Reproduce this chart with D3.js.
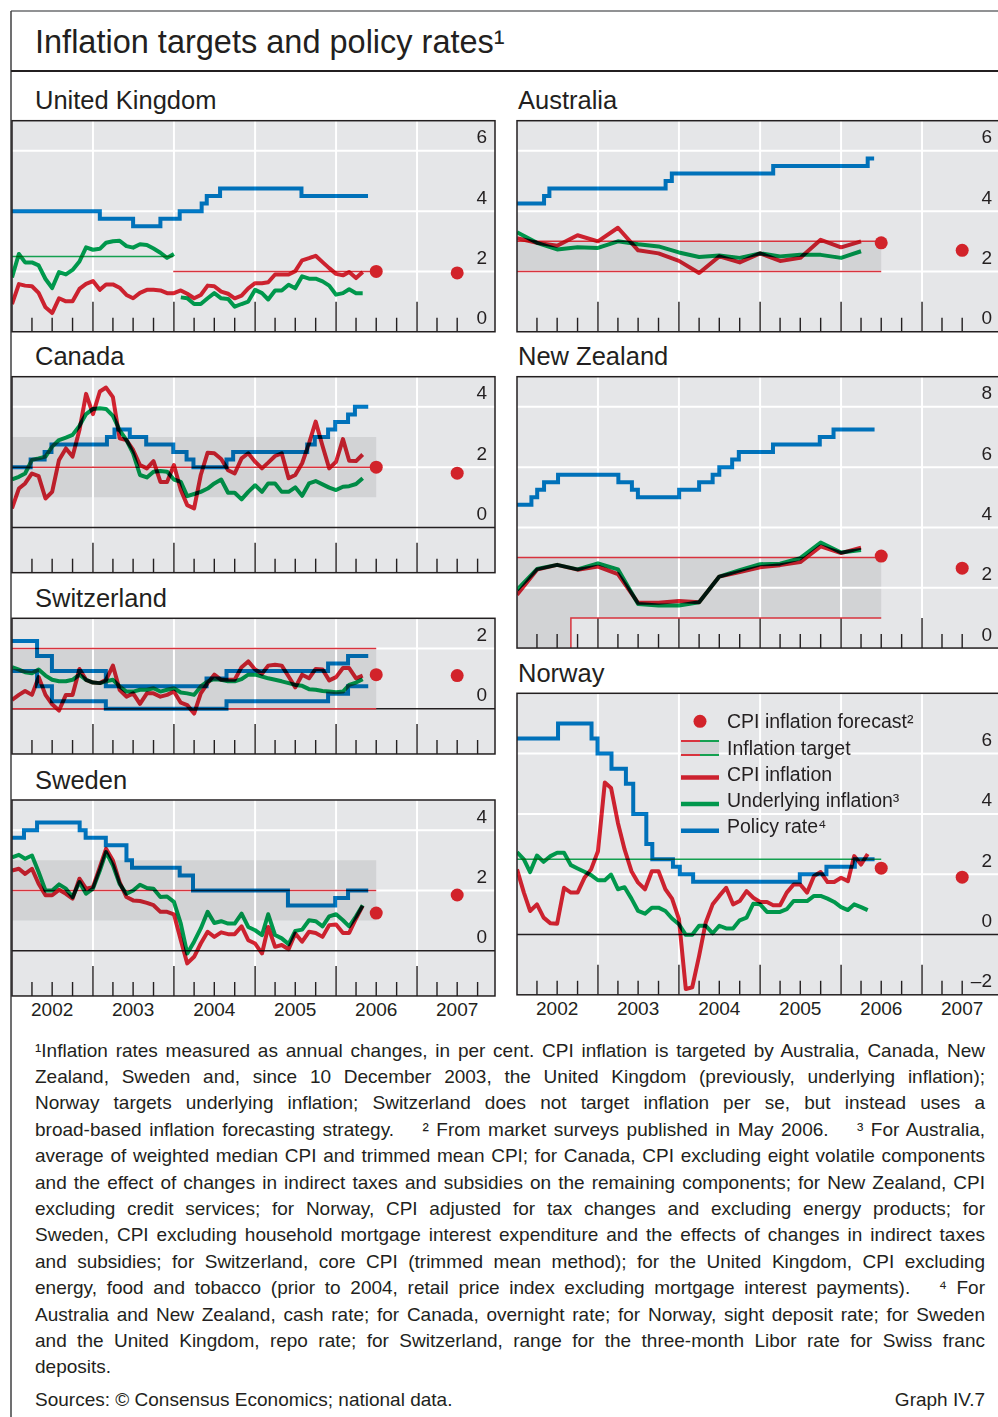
<!DOCTYPE html>
<html>
<head>
<meta charset="utf-8">
<script src="https://cdn.jsdelivr.net/npm/d3@7"></script>
<style>
  body { margin: 0; background: #fff; }
  svg text { font-family: "Liberation Sans", Arial, sans-serif; fill: #231f20; }
</style>
</head>
<body>
<svg id="chart" width="998" height="1417"></svg>
<script>
// ---- data ----
// monthly series: one value per month, first value plotted at Jan 2002
const ukCpi = [0.92, 1.58, 1.53, 1.51, 1.29, 0.81, 0.62, 1.11, 1.01, 1.01, 1.42, 1.59, 1.68, 1.39, 1.57, 1.57, 1.46, 1.22, 1.11, 1.29,
  1.39, 1.39, 1.37, 1.28, 1.28, 1.37, 1.26, 1.11, 1.22, 1.53, 1.51, 1.33, 1.26, 1.11, 1.2, 1.44, 1.61, 1.61, 1.64, 1.9,
  1.9, 1.9, 2.01, 2.37, 2.44, 2.52, 2.31, 2.11, 1.92, 1.87, 1.98, 1.78, 1.98];
const ukRpix = [1.8, 2.58, 2.3, 2.3, 2.2, 1.75, 1.45, 1.98, 1.9, 2.05, 2.33, 2.8, 2.72, 2.75, 2.95, 3.0, 3.02, 2.84, 2.79, 2.9,
  2.88, 2.76, 2.62, 2.45, 2.58];
const ukCoreStart = 25; // Feb 2004
const ukCore = [1.14, 1.11, 0.92, 0.92, 1.11, 1.28, 1.11, 1.09, 0.83, 0.92, 1.0, 1.39, 1.28, 1.07, 1.37, 1.37, 1.56, 1.44, 1.84, 1.76,
  1.76, 1.67, 1.53, 1.23, 1.28, 1.41, 1.28, 1.28];
const ukRateDates = ["2002-01-01", "2003-02-01", "2003-07-01", "2003-11-01", "2004-01-27", "2004-05-05", "2004-05-28", "2004-07-27", "2005-07-29"];
const ukRateLevels = [4, 3.75, 3.5, 3.75, 4, 4.25, 4.5, 4.75, 4.5];
const ukRateEnd = "2006-05-25";
const ukTargetDates = ["2002-01-01", "2003-12-29", "2006-07-01"];
const ukTargetLevels = [2.5, 2.0];
const ukForecast = [2.0, 1.95];

// quarterly series: one value per quarter, first value plotted at Jan 2002
const auCpi = [3.1, 2.95, 2.85, 3.2, 3.0, 3.45, 2.7, 2.6, 2.35, 1.95, 2.5, 2.3, 2.6, 2.35, 2.45, 3.05, 2.8, 3.0];
const auCore = [3.3, 2.95, 2.73, 2.8, 2.78, 3.0, 2.9, 2.83, 2.63, 2.48, 2.53, 2.45, 2.6, 2.5, 2.55, 2.55, 2.45, 2.67];
const auRateDates = ["2002-01-01", "2002-05-03", "2002-05-27", "2003-11-02", "2003-11-30", "2005-03-01", "2006-05-01"];
const auRateLevels = [4.25, 4.5, 4.75, 5.0, 5.25, 5.5, 5.75];
const auRateEnd = "2006-05-30";
const auBand = [2, 3];
const auForecast = [2.95, 2.7];

const caCpi = [0.63, 1.29, 1.46, 1.79, 1.7, 0.96, 1.18, 2.24, 2.62, 2.35, 3.23, 4.43, 3.76, 4.51, 4.64, 4.32, 2.96, 2.9, 2.57, 2.07,
  1.96, 2.2, 1.51, 1.51, 2.07, 1.24, 0.74, 0.63, 1.74, 2.48, 2.46, 2.27, 1.9, 1.79, 2.29, 2.46, 2.18, 1.96, 2.15, 2.37,
  2.46, 1.63, 1.74, 2.13, 2.79, 3.51, 2.7, 1.96, 2.18, 2.93, 2.21, 2.2, 2.42];
const caCore = [1.59, 1.68, 1.79, 2.24, 2.29, 2.35, 2.68, 2.9, 2.98, 3.07, 3.37, 3.76, 3.93, 3.95, 3.93, 3.7, 3.23, 2.9, 2.46, 1.74,
  1.66, 1.85, 1.87, 1.85, 1.59, 1.51, 1.04, 1.11, 1.18, 1.29, 1.46, 1.59, 1.15, 1.15, 0.93, 1.18, 1.4, 1.18, 1.46, 1.46,
  1.18, 1.18, 1.33, 1.05, 1.46, 1.54, 1.43, 1.32, 1.24, 1.35, 1.37, 1.44, 1.63];
const caRateDates = ["2002-01-01", "2002-03-26", "2002-05-28", "2002-06-28", "2003-03-05", "2003-04-08", "2003-06-16", "2003-08-29",
  "2003-12-29", "2004-02-27", "2004-03-29", "2004-08-25", "2004-09-24", "2005-08-24", "2005-09-27", "2005-11-26", "2005-12-28",
  "2006-02-24", "2006-03-27"];
const caRateLevels = [2.0, 2.25, 2.5, 2.75, 3.0, 3.25, 3.0, 2.75, 2.5, 2.25, 2.0, 2.25, 2.5, 2.75, 3.0, 3.25, 3.5, 3.75, 4.0];
const caRateEnd = "2006-05-26";
const caBand = [1, 3];
const caTarget = 2;
const caForecast = [2.0, 1.8];

const chCpi = [0.29, 0.46, 0.59, 0.46, 1.05, 0.46, 0.15, -0.06, 0.46, 0.46, 1.32, 0.96, 0.87, 0.85, 0.96, 1.43, 0.63, 0.4, 0.51, 0.16,
  0.51, 0.51, 0.4, 0.46, 0.57, 0.2, 0.12, -0.16, 0.51, 0.85, 1.13, 0.96, 0.96, 0.96, 1.38, 1.57, 1.3, 1.16, 1.43, 1.46,
  1.43, 1.07, 0.71, 1.13, 1.01, 1.32, 1.3, 0.94, 1.05, 1.35, 1.35, 1.01, 1.1];
const chCore = [1.38, 1.3, 1.21, 1.18, 1.3, 1.1, 0.96, 0.91, 0.91, 0.96, 1.13, 0.96, 0.87, 0.85, 0.91, 0.96, 0.74, 0.57, 0.57, 0.63,
  0.63, 0.68, 0.57, 0.63, 0.68, 0.54, 0.51, 0.46, 0.74, 0.91, 0.98, 0.96, 0.91, 0.91, 0.98, 1.13, 1.13, 1.07, 1.01, 0.96,
  0.91, 0.85, 0.79, 0.76, 0.65, 0.63, 0.59, 0.57, 0.55, 0.57, 0.79, 0.87, 0.98];
const chRangeDates = ["2002-01-01", "2002-04-24", "2002-06-30", "2003-02-28", "2004-05-27", "2004-08-25", "2005-11-26", "2006-02-24"];
const chRangeLow = [1.25, 0.75, 0.25, 0, 0, 0.25, 0.5, 0.75];
const chRangeHigh = [2.25, 1.75, 1.25, 0.75, 1.0, 1.25, 1.5, 1.75];
const chRangeEnd = "2006-05-26";
const chBand = [0, 2];
const chForecast = [1.13, 1.1];

const seCpi = [2.66, 2.72, 2.55, 2.72, 2.22, 1.84, 1.84, 2.02, 1.89, 1.73, 2.39, 2.06, 2.11, 2.77, 3.38, 2.99, 2.28, 1.78, 1.67, 1.65,
  1.59, 1.51, 1.29, 1.29, 1.21, 0.35, -0.42, -0.2, 0.24, 0.63, 0.46, 0.61, 0.55, 0.55, 0.81, 0.35, 0.24, -0.09, 0.79, 0.13,
  0.19, 0.05, 0.57, 0.3, 0.63, 0.59, 0.46, 0.85, 0.87, 0.59, 0.59, 1.07, 1.49];
const seCore = [3.1, 3.18, 3.05, 3.16, 2.61, 2.0, 2.0, 2.2, 2.06, 1.78, 2.28, 1.89, 2.06, 2.66, 3.27, 2.83, 2.22, 1.89, 2.0, 2.19,
  2.08, 2.06, 1.78, 1.8, 1.62, 0.9, -0.09, 0.3, 0.74, 1.29, 0.92, 0.98, 0.9, 0.9, 1.23, 0.79, 0.68, 0.52, 1.21, 0.52,
  0.41, 0.22, 0.66, 0.7, 1.01, 0.98, 0.81, 1.14, 1.21, 1.01, 0.81, 1.14, 1.51];
const seRateDates = ["2002-01-01", "2002-02-24", "2002-04-24", "2002-11-02", "2002-11-29", "2003-02-28", "2003-06-01", "2003-06-26",
  "2004-01-27", "2004-03-27", "2005-05-29", "2005-12-28", "2006-02-24"];
const seRateLevels = [3.75, 4.0, 4.25, 4.0, 3.75, 3.5, 3.0, 2.75, 2.5, 2.0, 1.5, 1.75, 2.0];
const seRateEnd = "2006-05-26";
const seBand = [1, 3];
const seTarget = 2;
const seForecast = [1.25, 1.85];

const nzCpi = [1.77, 2.6, 2.76, 2.6, 2.7, 2.45, 1.5, 1.5, 1.56, 1.52, 2.37, 2.52, 2.68, 2.75, 2.85, 3.37, 3.15, 3.33];
const nzCore = [1.93, 2.62, 2.76, 2.61, 2.81, 2.61, 1.46, 1.41, 1.41, 1.52, 2.37, 2.58, 2.78, 2.8, 2.98, 3.5, 3.17, 3.25];
const nzRateDates = ["2002-01-01", "2002-03-07", "2002-04-02", "2002-05-03", "2002-07-05", "2003-04-03", "2003-06-03", "2003-06-30",
  "2004-01-02", "2004-04-01", "2004-06-01", "2004-07-01", "2004-08-28", "2004-09-27", "2005-02-28", "2005-09-27", "2005-11-28"];
const nzRateLevels = [4.75, 5.0, 5.25, 5.5, 5.75, 5.5, 5.25, 5.0, 5.25, 5.5, 5.75, 6.0, 6.25, 6.5, 6.75, 7.0, 7.25];
const nzRateEnd = "2006-06-01";
const nzBandDates = ["2002-01-01", "2002-09-01", "2006-07-01"];
const nzBandLow = [0, 1, 1];
const nzBandHigh = [3, 3, 3];
const nzForecast = [3.05, 2.65];

const noCpi = [2.16, 1.39, 0.78, 1.0, 0.56, 0.37, 0.36, 1.55, 1.39, 1.39, 1.88, 2.16, 2.76, 5.04, 4.86, 3.7, 2.82, 2.1, 1.72, 1.5,
  2.1, 2.1, 1.5, 1.19, 0.51, -1.81, -1.75, -0.71, 0.4, 1.0, 1.28, 1.55, 1.0, 1.11, 1.44, 1.22, 1.08, 1.08, 0.97, 0.97,
  1.39, 1.66, 1.66, 1.39, 1.94, 2.07, 1.74, 1.74, 1.88, 1.77, 2.6, 2.32, 2.67];
const noCore = [2.73, 2.49, 2.07, 2.62, 2.41, 2.6, 2.71, 2.71, 2.3, 2.19, 2.08, 1.97, 1.8, 1.8, 1.99, 1.5, 1.57, 1.19, 0.78, 0.69,
  0.89, 0.89, 0.78, 0.53, 0.34, -0.01, -0.01, 0.29, 0.29, 0.04, 0.29, 0.2, 0.2, 0.47, 0.56, 1.02, 1.0, 0.75, 0.75, 0.75,
  0.84, 1.11, 1.11, 1.11, 1.28, 1.28, 1.19, 1.08, 0.91, 0.81, 1.0, 0.91, 0.81];
const noRateDates = ["2002-01-01", "2002-07-05", "2002-12-03", "2002-12-30", "2003-03-03", "2003-05-07", "2003-06-09", "2003-08-07",
  "2003-09-03", "2003-12-05", "2004-01-05", "2004-03-05", "2005-06-29", "2005-10-27", "2006-03-04"];
const noRateLevels = [6.5, 7.0, 6.5, 6.0, 5.5, 5.0, 4.0, 3.0, 2.5, 2.25, 2.0, 1.75, 2.0, 2.25, 2.5];
const noRateEnd = "2006-06-01";
const noTarget = 2.5;
const noForecast = [2.2, 1.9];

const forecastDates = ["2006-07-01", "2007-07-01"];
const targetEnd = "2006-07-01";
const yearLabels = [2002, 2003, 2004, 2005, 2006, 2007];
const legendLabels = ["CPI inflation forecast²", "Inflation target", "CPI inflation", "Underlying inflation³", "Policy rate⁴"];

const noteLines = [
  "¹Inflation rates measured as annual changes, in per cent. CPI inflation is targeted by Australia, Canada, New",
  "Zealand, Sweden and, since 10 December 2003, the United Kingdom (previously, underlying inflation);",
  "Norway targets underlying inflation; Switzerland does not target inflation per se, but instead uses a",
  "broad-based inflation forecasting strategy.\u2003\u2002² From market surveys published in May 2006.\u2003\u2002³ For Australia,",
  "average of weighted median CPI and trimmed mean CPI; for Canada, CPI excluding eight volatile components",
  "and the effect of changes in indirect taxes and subsidies on the remaining components; for New Zealand, CPI",
  "excluding credit services; for Norway, CPI adjusted for tax changes and excluding energy products; for",
  "Sweden, CPI excluding household mortgage interest expenditure and the effects of changes in indirect taxes",
  "and subsidies; for Switzerland, core CPI (trimmed mean method); for the United Kingdom, CPI excluding",
  "energy, food and tobacco (prior to 2004, retail price index excluding mortgage interest payments).\u2003\u2002⁴ For",
  "Australia and New Zealand, cash rate; for Canada, overnight rate; for Norway, sight deposit rate; for Sweden",
  "and the United Kingdom, repo rate; for Switzerland, range for the three-month Libor rate for Swiss franc",
  "deposits."
];

// ---- helpers ----
const parseDate = d3.timeParse("%Y-%m-%d");
const monthly = (vals, start = 0) => vals.map((v, i) => ({ date: new Date(2002, start + i, 1), value: v }));
const quarterly = vals => vals.map((v, i) => ({ date: new Date(2002, 3 * i, 1), value: v }));
function stepped(dates, levels, end) {
  const pts = dates.map((d, i) => ({ date: parseDate(d), value: levels[i] }));
  pts.push({ date: parseDate(end), value: levels[levels.length - 1] });
  return pts;
}
const flat = (from, to, v) => [{ date: parseDate(from), value: v }, { date: parseDate(to), value: v }];

const RED = "#e42533", GREEN = "#00a853", BLUE = "#007dcc";
const RED_T = "#d8333d", GREEN_T = "#14a050";
const BG = "#e5e6e8", BAND = "#d2d3d5", INK = "#231f20";
const PPU = 30.15, PANEL_W = 483;

const panels = [
  { id: "uk", title: "United Kingdom", left: 12, top: 120.7, yMin: 0, yMax: 7, ticks: [0, 2, 4, 6],
    targets: [
      { data: flat(ukTargetDates[0], ukTargetDates[1], ukTargetLevels[0]), color: GREEN_T },
      { data: flat(ukTargetDates[1], ukTargetDates[2], ukTargetLevels[1]), color: RED_T }],
    lines: [
      { data: monthly(ukRpix), color: GREEN },
      { data: monthly(ukCore, ukCoreStart), color: GREEN },
      { data: monthly(ukCpi), color: RED },
      { data: stepped(ukRateDates, ukRateLevels, ukRateEnd), color: BLUE, step: true }],
    forecast: ukForecast },
  { id: "au", title: "Australia", left: 517, top: 120.7, yMin: 0, yMax: 7, ticks: [0, 2, 4, 6],
    band: { dates: ["2002-01-01", targetEnd], lo: [auBand[0], auBand[0]], hi: [auBand[1], auBand[1]] },
    targets: [
      { data: flat("2002-01-01", targetEnd, auBand[0]), color: RED_T },
      { data: flat("2002-01-01", targetEnd, auBand[1]), color: RED_T }],
    lines: [
      { data: quarterly(auCore), color: GREEN },
      { data: quarterly(auCpi), color: RED },
      { data: stepped(auRateDates, auRateLevels, auRateEnd), color: BLUE, step: true }],
    forecast: auForecast },
  { id: "ca", title: "Canada", left: 12, top: 376.7, yMin: -1.5, yMax: 5, ticks: [0, 2, 4],
    band: { dates: ["2002-01-01", targetEnd], lo: [caBand[0], caBand[0]], hi: [caBand[1], caBand[1]] },
    targets: [{ data: flat("2002-01-01", targetEnd, caTarget), color: RED_T }],
    lines: [
      { data: monthly(caCore), color: GREEN },
      { data: monthly(caCpi), color: RED },
      { data: stepped(caRateDates, caRateLevels, caRateEnd), color: BLUE, step: true }],
    forecast: caForecast },
  { id: "nz", title: "New Zealand", left: 517, top: 376.7, yMin: 0, yMax: 9, ticks: [0, 2, 4, 6, 8],
    band: { dates: nzBandDates, lo: nzBandLow, hi: nzBandHigh },
    targets: [
      { data: flat(nzBandDates[0], targetEnd, nzBandHigh[0]), color: RED_T },
      { data: [{ date: parseDate(nzBandDates[1]), value: nzBandLow[0] }, { date: parseDate(nzBandDates[1]), value: nzBandLow[1] },
               { date: parseDate(targetEnd), value: nzBandLow[1] }], color: RED_T }],
    lines: [
      { data: quarterly(nzCore), color: GREEN },
      { data: quarterly(nzCpi), color: RED },
      { data: stepped(nzRateDates, nzRateLevels, nzRateEnd), color: BLUE, step: true }],
    forecast: nzForecast },
  { id: "ch", title: "Switzerland", left: 12, top: 618.3, yMin: -1.5, yMax: 3, ticks: [0, 2],
    band: { dates: ["2002-01-01", targetEnd], lo: [chBand[0], chBand[0]], hi: [chBand[1], chBand[1]] },
    targets: [
      { data: flat("2002-01-01", targetEnd, chBand[0]), color: RED_T },
      { data: flat("2002-01-01", targetEnd, chBand[1]), color: RED_T }],
    lines: [
      { data: monthly(chCore), color: GREEN },
      { data: monthly(chCpi), color: RED },
      { data: stepped(chRangeDates, chRangeLow, chRangeEnd), color: BLUE, step: true },
      { data: stepped(chRangeDates, chRangeHigh, chRangeEnd), color: BLUE, step: true }],
    forecast: chForecast },
  { id: "se", title: "Sweden", left: 12, top: 800, yMin: -1.5, yMax: 5, ticks: [0, 2, 4], years: true,
    band: { dates: ["2002-01-01", targetEnd], lo: [seBand[0], seBand[0]], hi: [seBand[1], seBand[1]] },
    targets: [{ data: flat("2002-01-01", targetEnd, seTarget), color: RED_T }],
    lines: [
      { data: monthly(seCore), color: GREEN },
      { data: monthly(seCpi), color: RED },
      { data: stepped(seRateDates, seRateLevels, seRateEnd), color: BLUE, step: true }],
    forecast: seForecast },
  { id: "no", title: "Norway", left: 517, top: 693.3, yMin: -2, yMax: 8, ticks: [-2, 0, 2, 4, 6], years: true, legend: true,
    targets: [{ data: flat("2002-01-01", targetEnd, noTarget), color: GREEN_T }],
    lines: [
      { data: monthly(noCore), color: GREEN },
      { data: monthly(noCpi), color: RED },
      { data: stepped(noRateDates, noRateLevels, noRateEnd), color: BLUE, step: true }],
    forecast: noForecast }
];

const svg = d3.select("#chart");

// frame and title
svg.append("line").attr("x1", 11).attr("x2", 998).attr("y1", 11).attr("y2", 11)
  .attr("stroke", "#6d6e71").attr("stroke-width", 1.5);
svg.append("line").attr("x1", 11).attr("x2", 11).attr("y1", 11).attr("y2", 1417)
  .attr("stroke", "#414042").attr("stroke-width", 1.5);
svg.append("line").attr("x1", 11).attr("x2", 998).attr("y1", 71).attr("y2", 71)
  .attr("stroke", INK).attr("stroke-width", 2);
svg.append("text").attr("x", 35).attr("y", 53).attr("font-size", 32.5)
  .text("Inflation targets and policy rates¹");

function drawPanel(p) {
  const h = (p.yMax - p.yMin) * PPU;
  const x = d3.scaleTime().domain([new Date(2002, 0, 1), new Date(2008, 0, 1)]).range([p.left, p.left + 486]);
  const y = d3.scaleLinear().domain([p.yMin, p.yMax]).range([p.top + h, p.top]);
  const right = p.left + PANEL_W, bottom = p.top + h;

  svg.append("clipPath").attr("id", "clip-" + p.id)
    .append("rect").attr("x", p.left).attr("y", p.top).attr("width", PANEL_W).attr("height", h);
  const g = svg.append("g").attr("clip-path", `url(#clip-${p.id})`);

  g.append("rect").attr("x", p.left).attr("y", p.top).attr("width", PANEL_W).attr("height", h).attr("fill", BG);

  if (p.band) {
    const bandPts = p.band.dates.map((d, i) => ({ date: parseDate(d), lo: p.band.lo[i], hi: p.band.hi[i] }));
    g.append("path").datum(bandPts).attr("fill", BAND)
      .attr("d", d3.area().curve(d3.curveStepAfter).x(d => x(d.date)).y0(d => y(d.lo)).y1(d => y(d.hi)));
  }

  // white grid
  g.selectAll(".vgrid").data(yearLabels.slice(1)).join("line")
    .attr("x1", d => x(new Date(d, 0, 1))).attr("x2", d => x(new Date(d, 0, 1)))
    .attr("y1", p.top).attr("y2", bottom).attr("stroke", "#fff").attr("stroke-width", 2);
  g.selectAll(".hgrid").data(p.ticks.filter(v => v !== 0 && v > p.yMin)).join("line")
    .attr("x1", p.left).attr("x2", right).attr("y1", d => y(d)).attr("y2", d => y(d))
    .attr("stroke", "#fff").attr("stroke-width", 2);

  if (p.yMin < 0) {
    g.append("line").attr("x1", p.left).attr("x2", right).attr("y1", y(0)).attr("y2", y(0))
      .attr("stroke", INK).attr("stroke-width", 1.5);
  }

  // quarterly ticks along the bottom (the last one gives way to a bottom tick label)
  const lastQuarter = p.ticks[0] === p.yMin ? new Date(2007, 7, 1) : new Date(2008, 0, 1);
  const quarters = d3.timeMonth.every(3).range(new Date(2002, 3, 1), lastQuarter);
  g.selectAll(".qtick").data(quarters).join("line")
    .attr("x1", d => x(d)).attr("x2", d => x(d))
    .attr("y1", d => bottom - (d.getMonth() === 0 ? 30 : 14)).attr("y2", bottom)
    .attr("stroke", INK).attr("stroke-width", 1.4);

  const line = d3.line().x(d => x(d.date)).y(d => y(d.value));
  p.targets.forEach(t => {
    g.append("path").datum(t.data).attr("fill", "none").attr("stroke", t.color).attr("stroke-width", 1.5).attr("d", line);
  });

  const stepLine = d3.line().curve(d3.curveStepAfter).x(d => x(d.date)).y(d => y(d.value));
  p.lines.forEach(s => {
    g.append("path").datum(s.data).attr("fill", "none").attr("stroke", s.color).attr("stroke-width", 4)
      .attr("stroke-linejoin", s.step ? "miter" : "round").style("mix-blend-mode", "multiply")
      .attr("d", s.step ? stepLine : line);
  });

  g.selectAll(".dot").data(p.forecast).join("circle")
    .attr("cx", (d, i) => x(parseDate(forecastDates[i]))).attr("cy", d => y(d))
    .attr("r", 6.5).attr("fill", "#d2232a");

  g.selectAll(".ylab").data(p.ticks).join("text")
    .attr("x", right - 8).attr("y", d => y(d) - 7.5).attr("text-anchor", "end").attr("font-size", 19)
    .text(d => d < 0 ? "\u2013" + (-d) : d);

  if (p.legend) drawLegend(g);

  svg.append("rect").attr("x", p.left).attr("y", p.top).attr("width", PANEL_W).attr("height", h)
    .attr("fill", "none").attr("stroke", INK).attr("stroke-width", 1.5);

  svg.append("text").attr("x", p.left < 100 ? 35 : 518).attr("y", p.top - 11.5).attr("font-size", 25.5).text(p.title);

  if (p.years) {
    svg.selectAll(".year-" + p.id).data(yearLabels).join("text")
      .attr("x", d => x(new Date(d, 6, 1))).attr("y", bottom + 20).attr("text-anchor", "middle")
      .attr("font-size", 19).text(d => d);
  }
}

function drawLegend(g) {
  const lx = 681, lw = 38, tx = 727;
  const rows = [728.3, 755, 781, 807, 833.3];
  g.append("circle").attr("cx", lx + lw / 2).attr("cy", rows[0] - 7).attr("r", 6.5).attr("fill", "#d2232a");
  g.append("rect").attr("x", lx).attr("y", 741).attr("width", lw).attr("height", 14).attr("fill", BAND);
  [741, 755].forEach(yy => {
    g.append("line").attr("x1", lx).attr("x2", lx + lw / 2).attr("y1", yy).attr("y2", yy).attr("stroke", RED_T).attr("stroke-width", 2);
    g.append("line").attr("x1", lx + lw / 2).attr("x2", lx + lw).attr("y1", yy).attr("y2", yy).attr("stroke", GREEN_T).attr("stroke-width", 2);
  });
  [[RED, rows[2] - 3.5], [GREEN, rows[3] - 3], [BLUE, rows[4] - 2.5]].forEach(([c, yy]) => {
    g.append("line").attr("x1", lx).attr("x2", lx + lw).attr("y1", yy).attr("y2", yy)
      .attr("stroke", c).attr("stroke-width", 4.5).style("mix-blend-mode", "multiply");
  });
  g.selectAll(".leg").data(legendLabels).join("text")
    .attr("x", tx).attr("y", (d, i) => rows[i]).attr("font-size", 19.5).text(d => d);
}

panels.forEach(drawPanel);

// footnotes: condensed, justified lines
const noteG = svg.append("g");
const notes = noteG.selectAll("text").data(noteLines).join("text")
  .attr("x", 0).attr("y", (d, i) => 1056.5 + i * 26.4).attr("font-size", 19)
  .style("white-space", "pre").text(d => d);
const widths = notes.nodes().map(n => n.getComputedTextLength());
const squeeze = Math.min(1, 950 / (d3.max(widths.slice(0, -1)) * 1.01));
const full = 950 / squeeze;
noteG.attr("transform", `translate(35,0) scale(${squeeze},1)`);
notes.each(function (d, i) {
  if (i === noteLines.length - 1) return;
  const spaces = (d.match(/ /g) || []).length;
  d3.select(this).style("word-spacing", ((full - widths[i]) / spaces) + "px");
});
noteG.append("text").attr("x", 0).attr("y", 1406).attr("font-size", 19)
  .text("Sources: © Consensus Economics; national data.");
noteG.append("text").attr("x", full).attr("y", 1406).attr("font-size", 19).attr("text-anchor", "end")
  .text("Graph IV.7");
</script>
</body>
</html>
